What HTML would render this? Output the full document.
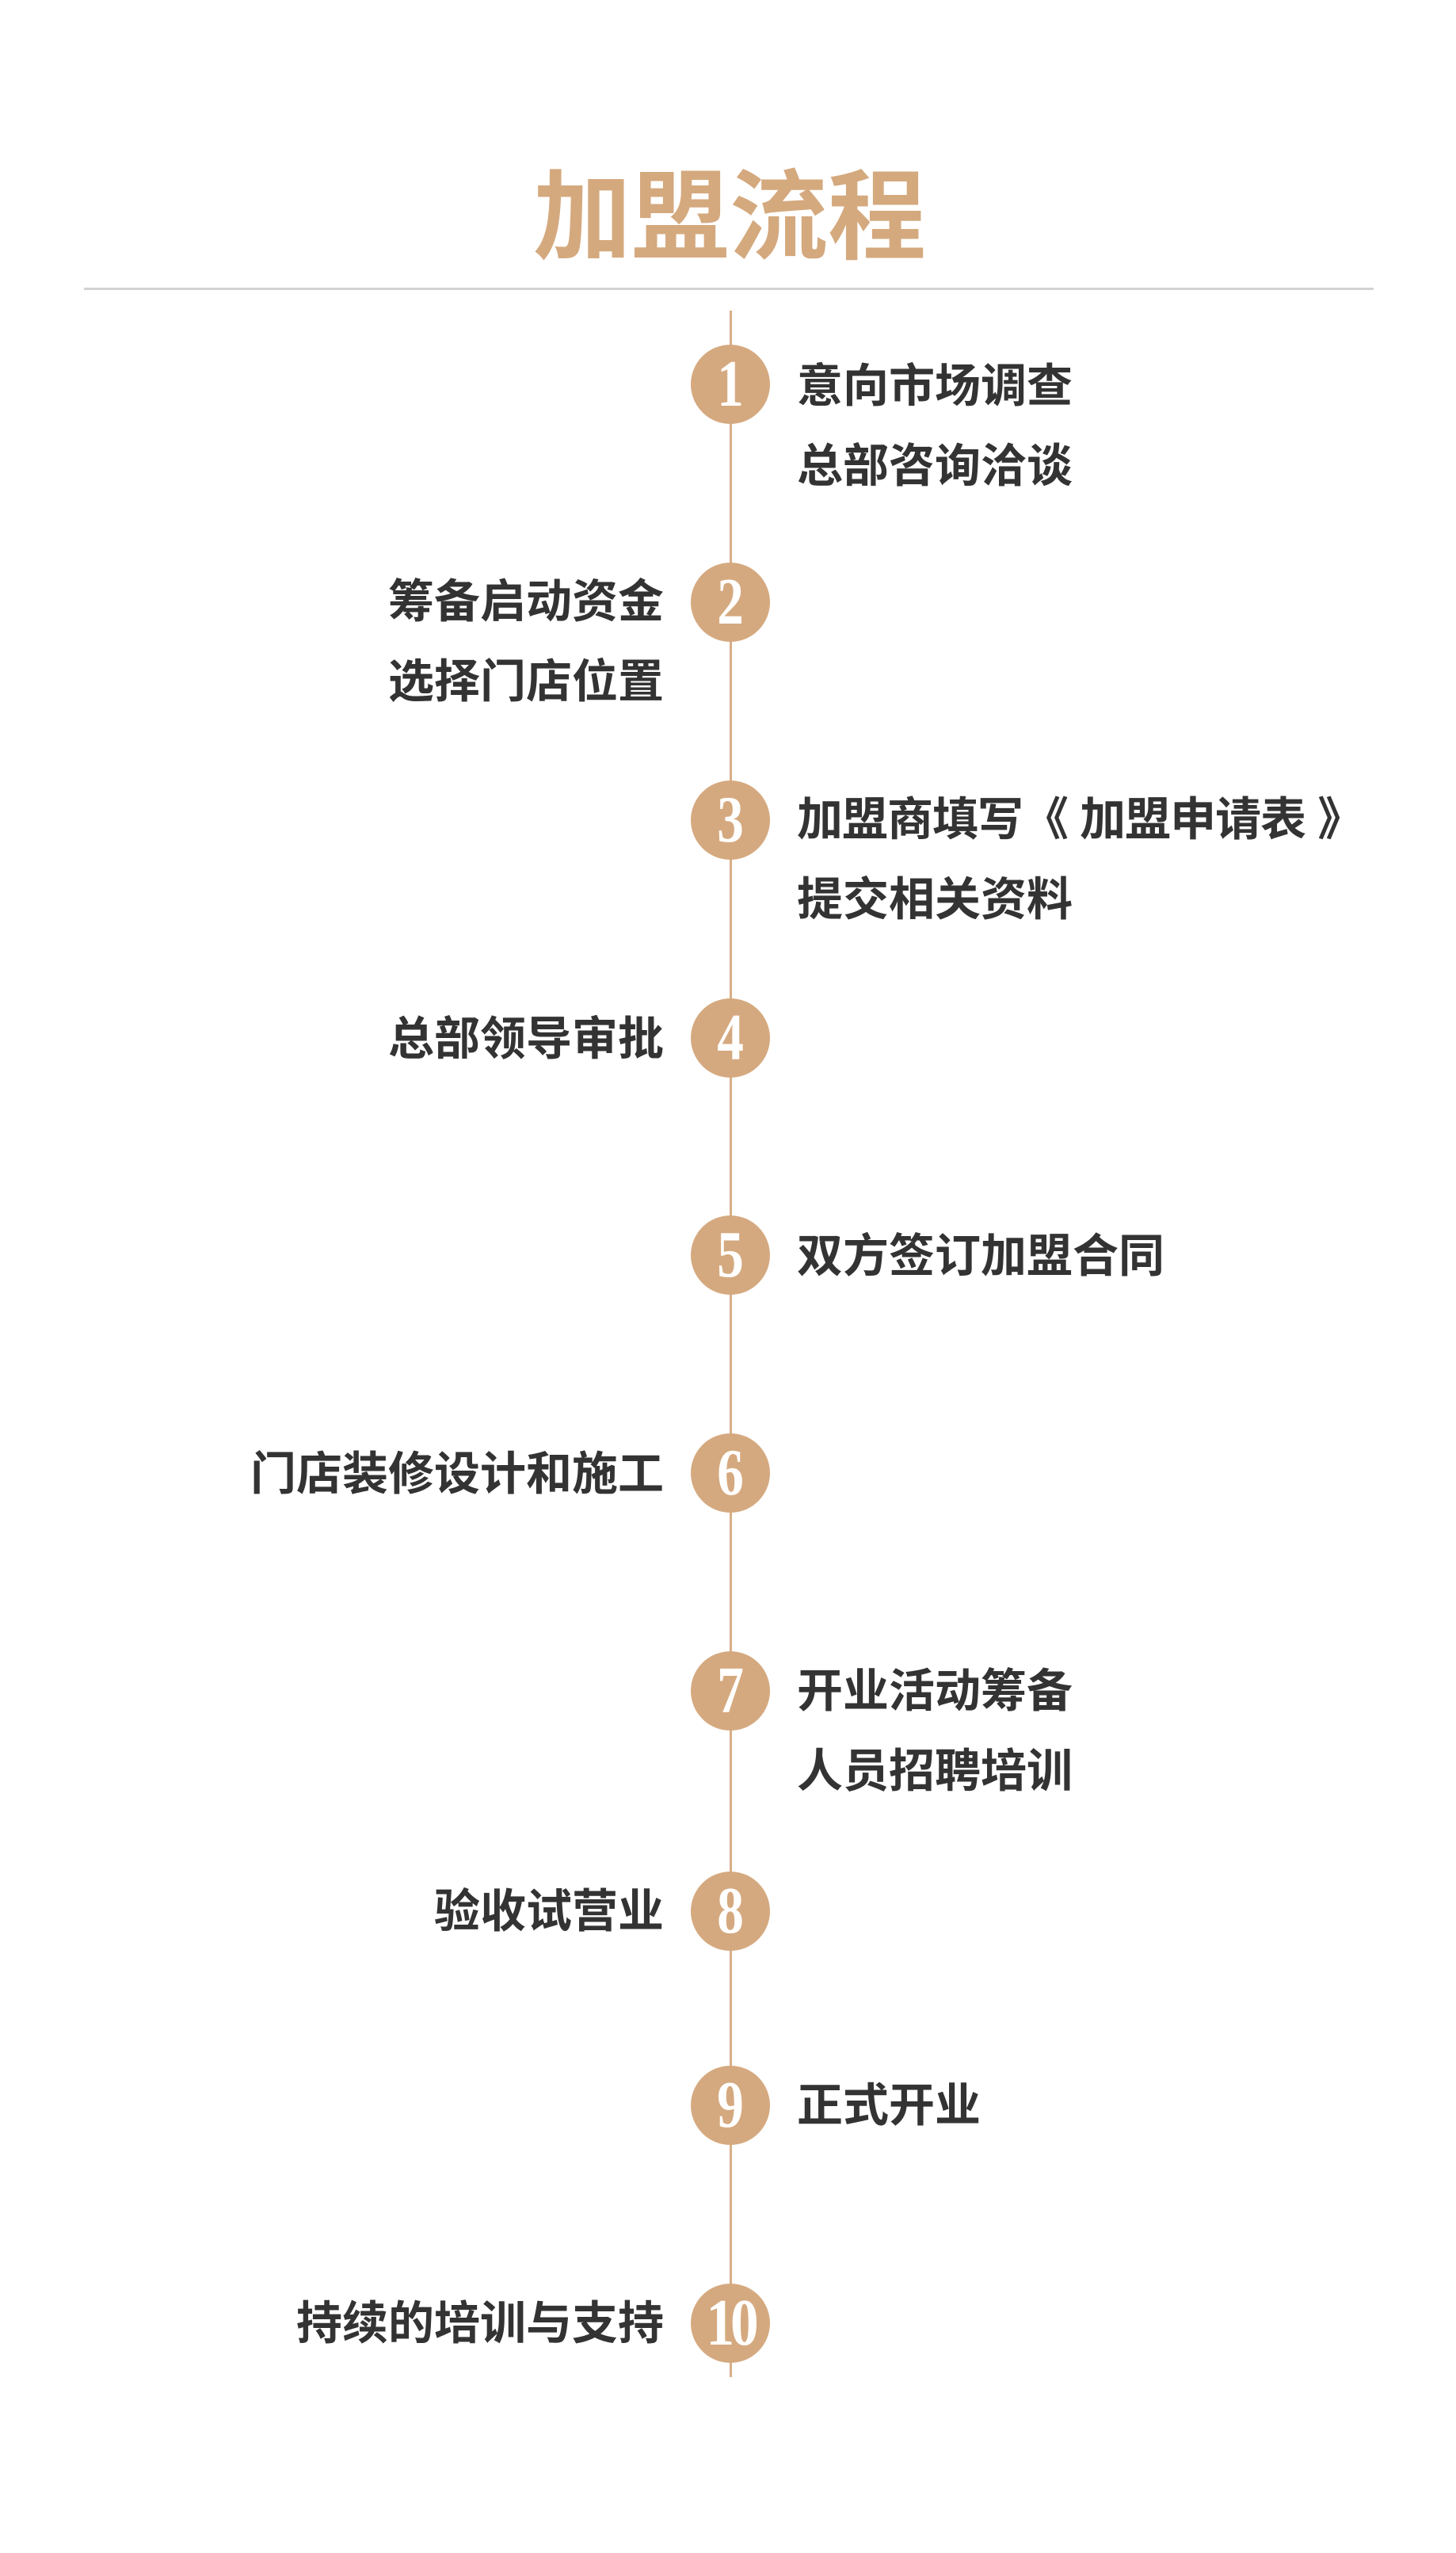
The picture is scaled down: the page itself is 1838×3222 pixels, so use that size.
<!DOCTYPE html>
<html><head><meta charset="utf-8"><style>
html,body{margin:0;padding:0;background:#fff;}
body{width:1838px;height:3222px;position:relative;overflow:hidden;font-family:"Liberation Sans","Noto Sans CJK SC",sans-serif;}
.title{position:absolute;left:0;width:1842px;top:195px;text-align:center;font-size:124px;font-weight:bold;color:#d4a97e;line-height:160px;}
.hr{position:absolute;left:106px;width:1628px;top:363px;height:3px;background:#d2d2d2;}
.vl{position:absolute;left:921px;width:3px;top:392px;height:2608px;background:#d8ae85;}
.c{position:absolute;width:100px;height:100px;border-radius:50%;background:#d5a97f;left:872px;color:#fff;font-family:"Liberation Serif",serif;font-weight:bold;font-size:84px;line-height:100px;text-align:center;}
.c span{display:inline-block;transform:scaleX(0.8);}
.t{position:absolute;font-size:58px;font-weight:bold;color:#333;line-height:70px;white-space:nowrap;}
.r{left:1006px;}
.l{right:1000px;text-align:right;}
</style></head><body>
<div class="title">加盟流程</div>
<div class="hr"></div>
<div class="vl"></div>

<div class="c" style="top:435px"><span>1</span></div>
<div class="t r" style="top:453px">意向市场调查</div>
<div class="t r" style="top:554px">总部咨询洽谈</div>

<div class="c" style="top:710px"><span>2</span></div>
<div class="t l" style="top:725px">筹备启动资金</div>
<div class="t l" style="top:826px">选择门店位置</div>

<div class="c" style="top:985px"><span>3</span></div>
<div class="t r" style="top:1000px;letter-spacing:-1px">加盟商填写《 加盟申请表 》</div>
<div class="t r" style="top:1101px">提交相关资料</div>

<div class="c" style="top:1260px"><span>4</span></div>
<div class="t l" style="top:1277px">总部领导审批</div>

<div class="c" style="top:1534px"><span>5</span></div>
<div class="t r" style="top:1551px">双方签订加盟合同</div>

<div class="c" style="top:1809px"><span>6</span></div>
<div class="t l" style="top:1826px">门店装修设计和施工</div>

<div class="c" style="top:2084px"><span>7</span></div>
<div class="t r" style="top:2100px">开业活动筹备</div>
<div class="t r" style="top:2201px">人员招聘培训</div>

<div class="c" style="top:2362px"><span>8</span></div>
<div class="t l" style="top:2378px">验收试营业</div>

<div class="c" style="top:2607px"><span>9</span></div>
<div class="t r" style="top:2623px">正式开业</div>

<div class="c" style="top:2882px"><span style="transform:scaleX(0.85);letter-spacing:-6px">10</span></div>
<div class="t l" style="top:2898px">持续的培训与支持</div>
</body></html>
